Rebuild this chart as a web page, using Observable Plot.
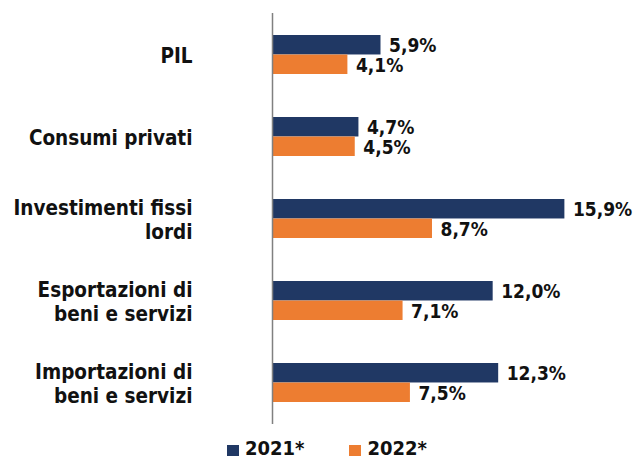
<!DOCTYPE html>
<html>
<head>
<meta charset="utf-8">
<script src="https://cdn.jsdelivr.net/npm/d3@7"></script>
<script src="https://cdn.jsdelivr.net/npm/@observablehq/plot@0.6"></script>
<style>
  body { margin: 0; background: #fff; font-family: "DejaVu Sans Condensed", "DejaVu Sans", sans-serif; font-stretch: condensed; }
  #legend { display: flex; align-items: center; margin-left: 227px; height: 22px; font-weight: bold; font-size: 20px; color: #111; }
  #legend .item { display: flex; align-items: center; }
  #legend .sw { width: 12px; height: 11px; display: inline-block; margin-right: 6px; margin-top: 4px; }
  #legend .item + .item { margin-left: 45px; }
</style>
</head>
<body>
<div id="chart"></div>
<div id="legend"></div>
<script>
const categories = ["PIL", "Consumi privati", "Investimenti fissi\nlordi", "Esportazioni di\nbeni e servizi", "Importazioni di\nbeni e servizi"];
const values2021 = [5.9, 4.7, 15.9, 12.0, 12.3];
const values2022 = [4.1, 4.5, 8.7, 7.1, 7.5];
const seriesNames = ["2021*", "2022*"];
const colors = ["#203864", "#ED7D31"];

const d21 = categories.map((c, i) => ({cat: c, v: values2021[i]}));
const d22 = categories.map((c, i) => ({cat: c, v: values2022[i]}));

const fmt = v => v.toFixed(1).replace(".", ",") + "%";

const height = 437, marginTop = 13, marginBottom = 13;
const paddingInner = 0.525;
const step = (height - marginTop - marginBottom) / categories.length;
const bw = step * (1 - paddingInner);
const half = bw / 2;
const font = "'DejaVu Sans Condensed', 'DejaVu Sans', sans-serif";

const chart = Plot.plot({
  width: 636,
  height,
  marginTop,
  marginBottom,
  marginLeft: 272,
  marginRight: 33,
  style: {fontFamily: font, background: "#fff"},
  x: {domain: [0, 18], axis: null},
  y: {domain: categories, axis: null, paddingInner, paddingOuter: paddingInner / 2},
  marks: [
    Plot.barX(d21, {x: "v", y: "cat", fill: colors[0], insetBottom: half}),
    Plot.barX(d22, {x: "v", y: "cat", fill: colors[1], insetTop: half}),
    Plot.text(d21, {x: "v", y: "cat", text: d => fmt(d.v), dx: 8, dy: -half / 2 + 1, textAnchor: "start", fontSize: 19, fontWeight: "bold", fill: "#111"}),
    Plot.text(d22, {x: "v", y: "cat", text: d => fmt(d.v), dx: 8, dy: half / 2 + 1.5, textAnchor: "start", fontSize: 19, fontWeight: "bold", fill: "#111"}),
    Plot.text(categories, {x: 0, y: d => d, text: d => d, dx: -80, textAnchor: "end", lineAnchor: "middle", lineHeight: 1.2, fontSize: 20.5, fontWeight: "bold", fill: "#111"}),
    Plot.ruleX([0], {stroke: "#808080", strokeWidth: 1.5})
  ]
});
document.getElementById("chart").appendChild(chart);

const legend = document.getElementById("legend");
seriesNames.forEach((name, i) => {
  const item = document.createElement("div");
  item.className = "item";
  const sw = document.createElement("span");
  sw.className = "sw";
  sw.style.background = colors[i];
  item.appendChild(sw);
  item.appendChild(document.createTextNode(name));
  legend.appendChild(item);
});
</script>
</body>
</html>
